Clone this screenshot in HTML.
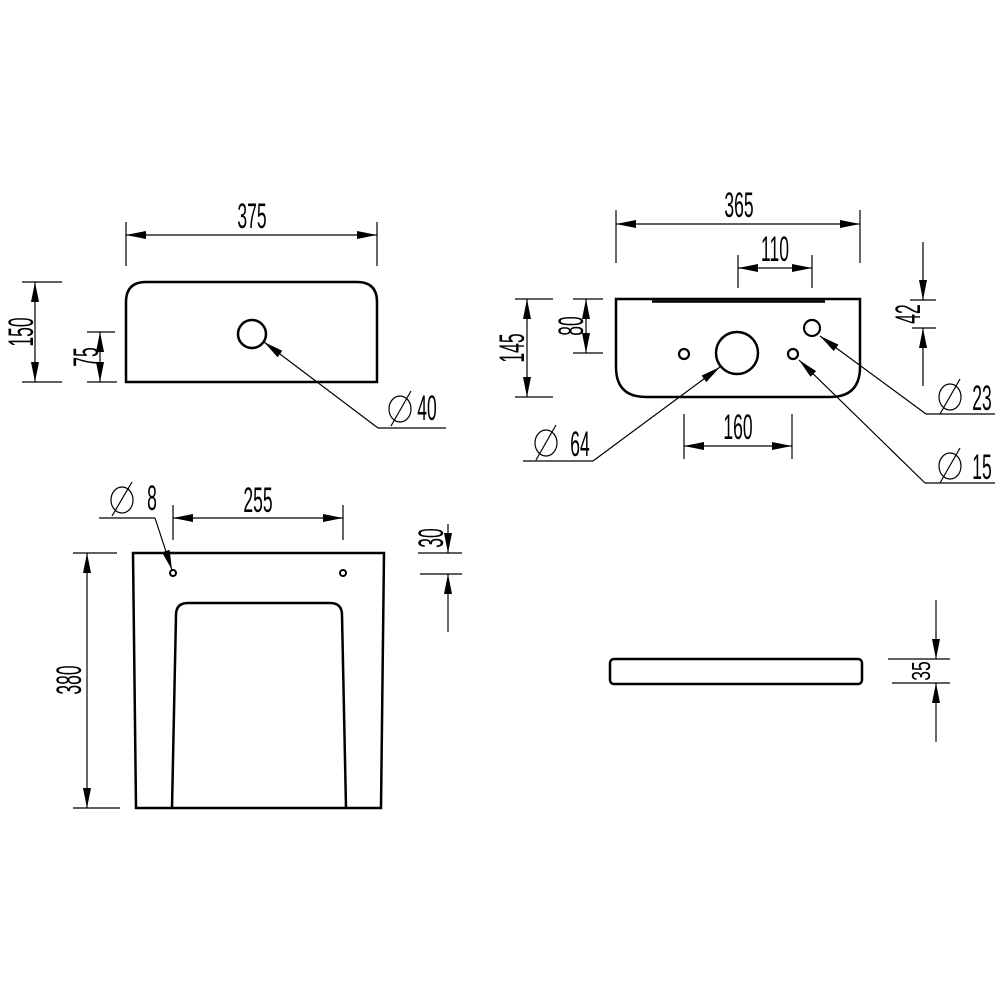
<!DOCTYPE html>
<html><head><meta charset="utf-8"><style>
html,body{margin:0;padding:0;background:#fff;}
svg{display:block;}
text{font-family:"Liberation Sans",sans-serif;font-size:35px;fill:#000;}
</style></head><body>
<svg width="1000" height="1000" viewBox="0 0 1000 1000" xmlns="http://www.w3.org/2000/svg">
<defs>
<marker id="a" viewBox="0 0 20 8" refX="20" refY="4" markerWidth="20" markerHeight="8" markerUnits="userSpaceOnUse" orient="auto-start-reverse"><path d="M0,0 L20,4 L0,8 Z" fill="#000"/></marker>
</defs>
<g fill="none" stroke="#000">
<path d="M126,382 V302 Q126,282 146,282 H357 Q377,282 377,302 V382 Z" stroke-width="2.5"/>
<circle cx="252" cy="334" r="14" stroke-width="2.5"/>
<g stroke-width="1.2">
<line x1="126" y1="222" x2="126" y2="266"/><line x1="377" y1="222" x2="377" y2="266"/>
<line x1="126" y1="235" x2="377" y2="235" marker-start="url(#a)" marker-end="url(#a)"/>
<line x1="22" y1="282" x2="62" y2="282"/><line x1="22" y1="382" x2="62" y2="382"/>
<line x1="35" y1="282" x2="35" y2="382" marker-start="url(#a)" marker-end="url(#a)"/>
<line x1="87" y1="332" x2="115" y2="332"/><line x1="87" y1="382" x2="117" y2="382"/>
<line x1="100" y1="332" x2="100" y2="382" marker-start="url(#a)" marker-end="url(#a)"/>
<line x1="446" y1="428" x2="378" y2="428"/>
<line x1="378" y1="428" x2="264" y2="342" marker-end="url(#a)"/>
<ellipse cx="400" cy="409" rx="11" ry="13"/><line x1="391" y1="426" x2="411" y2="391"/>
</g>
<path d="M616,299 H860 V367 Q860,397 830,397 H646 Q616,397 616,367 Z" stroke-width="2.5"/>
<line x1="652" y1="301" x2="825" y2="301" stroke-width="1.5"/>
<line x1="652" y1="302" x2="825" y2="302" stroke-width="1.5"/>
<circle cx="737" cy="353" r="21" stroke-width="2.5"/>
<circle cx="684" cy="354" r="5" stroke-width="2.2"/>
<circle cx="793" cy="354" r="5" stroke-width="2.2"/>
<circle cx="812" cy="328" r="8" stroke-width="2.2"/>
<g stroke-width="1.2">
<line x1="616" y1="210" x2="616" y2="263"/><line x1="860" y1="210" x2="860" y2="263"/>
<line x1="616" y1="224" x2="860" y2="224" marker-start="url(#a)" marker-end="url(#a)"/>
<line x1="738" y1="255" x2="738" y2="288"/><line x1="812" y1="255" x2="812" y2="288"/>
<line x1="738" y1="268" x2="812" y2="268" marker-start="url(#a)" marker-end="url(#a)"/>
<line x1="515" y1="299" x2="553" y2="299"/><line x1="515" y1="397" x2="553" y2="397"/>
<line x1="527" y1="299" x2="527" y2="397" marker-start="url(#a)" marker-end="url(#a)"/>
<line x1="573" y1="299" x2="603" y2="299"/><line x1="573" y1="353" x2="603" y2="353"/>
<line x1="586" y1="299" x2="586" y2="353" marker-start="url(#a)" marker-end="url(#a)"/>
<line x1="910" y1="300" x2="936" y2="300"/><line x1="912" y1="328" x2="936" y2="328"/>
<line x1="923" y1="242" x2="923" y2="300" marker-end="url(#a)"/>
<line x1="923" y1="386" x2="923" y2="328" marker-end="url(#a)"/>
<line x1="684" y1="414" x2="684" y2="459"/><line x1="792" y1="414" x2="792" y2="459"/>
<line x1="684" y1="446" x2="792" y2="446" marker-start="url(#a)" marker-end="url(#a)"/>
<line x1="995" y1="414" x2="926" y2="414"/>
<line x1="926" y1="414" x2="820" y2="336" marker-end="url(#a)"/>
<line x1="995" y1="483" x2="925" y2="483"/>
<line x1="925" y1="483" x2="799" y2="360" marker-end="url(#a)"/>
<line x1="523" y1="461" x2="593" y2="461"/>
<line x1="593" y1="461" x2="720" y2="367" marker-end="url(#a)"/>
<ellipse cx="950" cy="397" rx="11" ry="13"/><line x1="940" y1="414" x2="960" y2="379"/>
<ellipse cx="950" cy="466" rx="11" ry="13"/><line x1="940" y1="483" x2="960" y2="448"/>
<ellipse cx="546" cy="443" rx="11" ry="13"/><line x1="536" y1="460" x2="556" y2="425"/>
</g>
<path d="M133,553 H384 L381,808 H136 Z" stroke-width="2.5"/>
<path d="M172,808 L176,615 Q176,603 188,603 H330 Q342,603 342,615 L346,808" stroke-width="2.5"/>
<circle cx="173" cy="573" r="3" stroke-width="2"/>
<circle cx="343" cy="573" r="3" stroke-width="2"/>
<g stroke-width="1.2">
<line x1="173" y1="505" x2="173" y2="540"/><line x1="343" y1="505" x2="343" y2="540"/>
<line x1="173" y1="518" x2="343" y2="518" marker-start="url(#a)" marker-end="url(#a)"/>
<line x1="99" y1="518" x2="155" y2="518"/>
<line x1="155" y1="518" x2="172" y2="570" marker-end="url(#a)"/>
<ellipse cx="122" cy="500" rx="11" ry="13"/><line x1="112" y1="516" x2="132" y2="482"/>
<line x1="73" y1="553" x2="117" y2="553"/><line x1="73" y1="808" x2="120" y2="808"/>
<line x1="87" y1="553" x2="87" y2="808" marker-start="url(#a)" marker-end="url(#a)"/>
<line x1="418" y1="553" x2="462" y2="553"/><line x1="420" y1="574" x2="462" y2="574"/>
<line x1="448" y1="524" x2="448" y2="553" marker-end="url(#a)"/>
<line x1="448" y1="632" x2="448" y2="574" marker-end="url(#a)"/>
</g>
<rect x="610" y="659" width="252" height="25" rx="4" stroke-width="2.5"/>
<g stroke-width="1.2">
<line x1="888" y1="659" x2="950" y2="659"/><line x1="892" y1="683" x2="950" y2="683"/>
<line x1="936" y1="600" x2="936" y2="659" marker-end="url(#a)"/>
<line x1="936" y1="742" x2="936" y2="683" marker-end="url(#a)"/>
</g>
</g>
<g>
<text transform="translate(252,228) scale(0.5,1)" text-anchor="middle">375</text>
<text transform="translate(33,332) rotate(-90) scale(0.5,1)" text-anchor="middle">150</text>
<text transform="translate(98,357) rotate(-90) scale(0.5,1)" text-anchor="middle">75</text>
<text transform="translate(427,420) scale(0.5,1)" text-anchor="middle">40</text>
<text transform="translate(739,217) scale(0.5,1)" text-anchor="middle">365</text>
<text transform="translate(775,261) scale(0.5,1)" text-anchor="middle">110</text>
<text transform="translate(524,348) rotate(-90) scale(0.5,1)" text-anchor="middle">145</text>
<text transform="translate(583,326) rotate(-90) scale(0.5,1)" text-anchor="middle">80</text>
<text transform="translate(920,314) rotate(-90) scale(0.5,1)" text-anchor="middle">42</text>
<text transform="translate(982,410) scale(0.5,1)" text-anchor="middle">23</text>
<text transform="translate(982,479) scale(0.5,1)" text-anchor="middle">15</text>
<text transform="translate(580,456) scale(0.5,1)" text-anchor="middle">64</text>
<text transform="translate(738,439) scale(0.5,1)" text-anchor="middle">160</text>
<text transform="translate(258,512) scale(0.5,1)" text-anchor="middle">255</text>
<text transform="translate(152,510) scale(0.5,1)" text-anchor="middle">8</text>
<text transform="translate(81,680) rotate(-90) scale(0.5,1)" text-anchor="middle">380</text>
<text transform="translate(443,538) rotate(-90) scale(0.5,1)" text-anchor="middle">30</text>
<text transform="translate(930,671) rotate(-90) scale(0.5,0.75)" text-anchor="middle">35</text>
</g>
</svg>
</body></html>
